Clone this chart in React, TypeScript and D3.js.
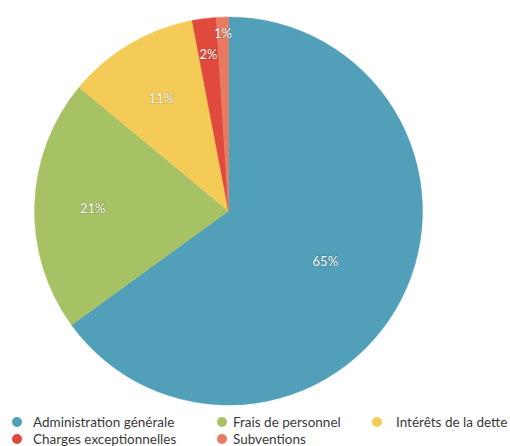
import React, { useRef, useEffect } from 'react';
import * as d3 from 'd3';

// slice data
const categories = ["Administration générale", "Frais de personnel", "Intérêts de la dette", "Charges exceptionnelles", "Subventions"];
const values = [65, 21, 11, 2, 1];
const colors = ["#519fb9", "#a7c264", "#f5cb57", "#df4a3d", "#e97a62"];
// how far out (fraction of radius) each percent label sits
const labelFactors = [0.56, 0.70, 0.68, 0.82, 0.92];
// legend layout: which column / row each item goes in
const legendCols = [0, 1, 2, 0, 1];
const legendRows = [0, 0, 0, 1, 1];

export default function App() {
  const ref = useRef<SVGSVGElement>(null);
  const width = 510;
  const height = 446;

  useEffect(() => {
    const svg = d3.select(ref.current);
    svg.selectAll("*").remove();

    const cx = 228.5;
    const cy = 211;
    const radius = 194;

    const data = categories.map((c, i) => ({ name: c, value: values[i], color: colors[i], lf: labelFactors[i] }));

    const pie = d3.pie<any>().sort(null).value((d) => d.value);
    const arcs = pie(data);
    const arc = d3.arc<any>().innerRadius(0).outerRadius(radius);

    const g = svg.append("g").attr("transform", "translate(" + cx + "," + cy + ")");

    g.selectAll("path")
      .data(arcs)
      .enter()
      .append("path")
      .attr("d", arc)
      .attr("fill", (d) => d.data.color)
      .attr("stroke", (d) => d.data.color)
      .attr("stroke-width", 0.5);

    // labels
    g.selectAll("text.lbl")
      .data(arcs)
      .enter()
      .append("text")
      .attr("class", "lbl")
      .attr("transform", (d) => {
        const la = d3.arc<any>().innerRadius(radius * d.data.lf).outerRadius(radius * d.data.lf);
        const c = la.centroid(d);
        return "translate(" + c[0] + "," + c[1] + ")";
      })
      .attr("text-anchor", "middle")
      .attr("dy", "0.45em")
      .attr("fill", "#ffffff")
      .style("font-family", "Lato, 'Open Sans', sans-serif")
      .style("font-size", "13px")
      .style("paint-order", "stroke")
      .style("stroke", "rgba(0,0,0,0.22)")
      .style("stroke-width", "1.2px")
      .text((d) => d.data.value + "%");

    // legend
    const colX = [17, 222, 377];
    const rowY = [422, 439];
    const leg = svg.append("g");
    const items = leg.selectAll("g")
      .data(data)
      .enter()
      .append("g")
      .attr("transform", (d, i) => "translate(" + colX[legendCols[i]] + "," + rowY[legendRows[i]] + ")");
    items.append("circle")
      .attr("r", 5)
      .attr("fill", (d) => d.color);
    items.append("text")
      .attr("x", (d, i) => (legendCols[i] === 2 ? 19 : legendCols[i] === 1 ? 11 : 16))
      .attr("dy", "0.35em")
      .attr("fill", "#3a3a3a")
      .style("font-family", "Lato, 'Open Sans', sans-serif")
      .style("font-size", "13.5px")
      .text((d) => d.name);
  }, []);

  return (
    <svg ref={ref} width={width} height={height}
      style={{ position: "absolute", left: 0, top: 0, background: "#fff" }}>
    </svg>
  );
}
